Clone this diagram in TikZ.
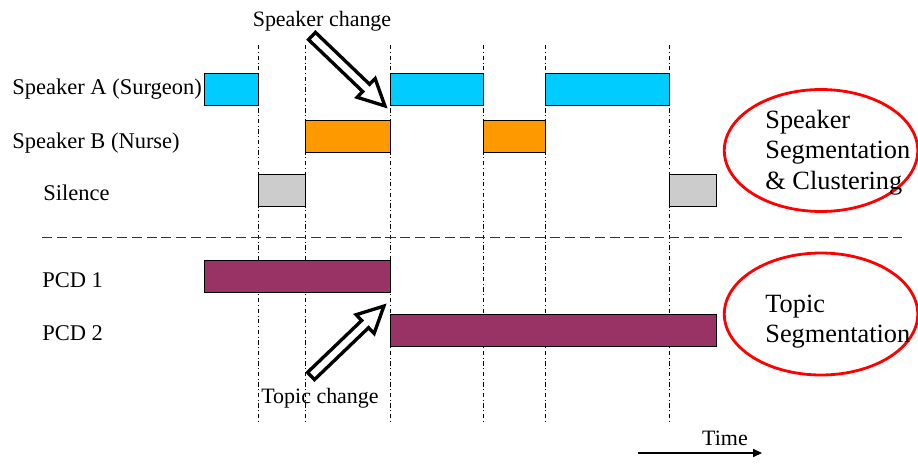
\documentclass[tikz,border=0pt]{standalone}
\usepackage{fontspec}
\setmainfont{Liberation Serif}
\usetikzlibrary{shapes.geometric,arrows.meta}

\definecolor{spkA}{HTML}{00CCFF}
\definecolor{spkB}{HTML}{FF9900}
\definecolor{sil}{HTML}{CCCCCC}
\definecolor{pcd}{HTML}{993366}

\begin{document}
\begin{tikzpicture}[x=0.02cm, y=-0.02cm,
  seg/.style={draw=black, line width=0.5pt},
  marker/.style={line width=0.4pt, dash pattern=on 2.5pt off 1.5pt on 0.5pt off 1.5pt},
  lbl/.style={anchor=base west, inner sep=0pt, font=\fontsize{12.8}{15}\selectfont},
  note/.style={anchor=base, inner sep=0pt, font=\fontsize{12.5}{15}\selectfont},
  oval/.style={ellipse, draw=red, line width=1.6pt, minimum width=3.87cm, minimum height=2.44cm, inner sep=0pt},
  ovaltext/.style={anchor=west, align=left, inner sep=0pt, font=\fontsize{15}{17.4}\selectfont},
  changearrow/.pic={\draw[line width=1.9pt, fill=white] (0,-5) -- (75,-5) -- (75,-13) -- (101,0) -- (75,13) -- (75,5) -- (0,5) -- cycle;}
]
\useasboundingbox (0,0) rectangle (918,463);

% change points
\foreach \t in {258,305,390,483,545,669}
  \draw[marker] (\t,45) -- (\t,422);

% speaker turns
\foreach \a/\b in {204/258,390/483,545/669}
  \draw[seg, fill=spkA] (\a,73) rectangle (\b,105);
\foreach \a/\b in {305/390,483/545}
  \draw[seg, fill=spkB] (\a,120) rectangle (\b,152);
\foreach \a/\b in {258/305,669/716}
  \draw[seg, fill=sil] (\a,174) rectangle (\b,206);

\node[lbl] (spka) at (12,94) {Speaker A (Surgeon)};
\node[lbl] (spkb) at (12,148) {Speaker B (Nurse)};
\node[lbl] (silence) at (43,200) {Silence};

% separator
\draw[line width=0.5pt, color=black!80, dash pattern=on 5.7pt off 2.8pt] (42,237) -- (902,237);

% topic segments
\draw[seg, fill=pcd] (204,260) rectangle (390,292);
\draw[seg, fill=pcd] (390,314) rectangle (716,346);

\node[lbl] (pcda) at (42,287) {PCD 1};
\node[lbl] (pcdb) at (42,340) {PCD 2};

% change pointers
\node[note] (spkchg) at (322,26) {Speaker change};
\pic[rotate=-43.8] at (312,36) {changearrow};
\node[note] (topchg) at (320,403) {Topic change};
\pic[rotate=43.8] at (311,376) {changearrow};

% segmentation tasks
\node[oval] (spkoval) at (821,150.5) {};
\node[ovaltext] (spktxt) at (765,152.5) {Speaker\\Segmentation\\\& Clustering};
\node[oval] (topoval) at (821,314) {};
\node[ovaltext] (toptxt) at (765,321.5) {Topic\\Segmentation};

% time axis
\node[note] (time) at (725,445) {Time};
\coordinate (tstart) at (638,453);
\coordinate (tend) at (762,453);
\draw[line width=0.7pt, -{Triangle[length=5pt,width=4.5pt]}] (tstart) -- (tend);

\end{tikzpicture}
\end{document}
